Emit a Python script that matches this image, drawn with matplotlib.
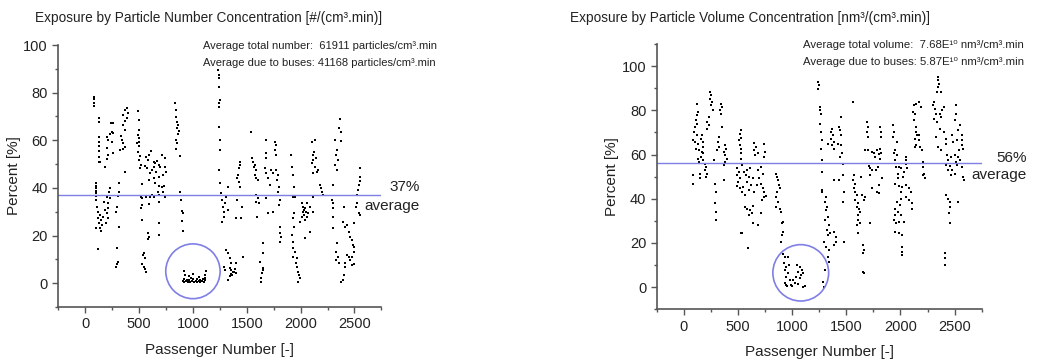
import numpy as np
import matplotlib
matplotlib.use("Agg")
import matplotlib.pyplot as plt
from matplotlib.patches import Ellipse

plt.rcParams['font.family'] = ['Liberation Sans', 'DejaVu Sans']

# values: (passenger number, percent)
num_pts = [
    # ~80-230
    (81, 78.3), (81, 77.2), (81, 75.8), (81, 74.5), (128, 69.2), (128, 67.8),
    (131, 61.2), (131, 59.4), (131, 57.6), (131, 55.6), (131, 53.1), (131, 51.0),
    (97, 41.9), (97, 40.8), (97, 39.8), (97, 38.9), (97, 37.7), (97, 36.6), (122, 14.2),
    (97, 35.0), (106, 32.1), (116, 30.0), (137, 28.6), (122, 27.2), (147, 26.5),
    (128, 25.1), (153, 24.4), (140, 23.0), (169, 27.9), (184, 30.7), (200, 29.3),
    (215, 33.5), (209, 31.4), (178, 34.2), (215, 27.2), (190, 25.1), (100, 23.0),
    (147, 22.1), (231, 39.8), (221, 38.4), (200, 36.3), (231, 35.6),
    (240, 67.4), (253, 67.1), (246, 63.6), (231, 62.6), (262, 63.2), (200, 61.5),
    (215, 60.1), (246, 59.4), (200, 56.6), (262, 54.5), (209, 53.8), (200, 52.0),
    (184, 48.7), (137, 51.0),
    # ~290-400
    (387, 73.4), (371, 72.7), (396, 71.3), (355, 70.6), (387, 69.2), (371, 68.2),
    (346, 66.4), (365, 64.3), (334, 61.8), (340, 60.1), (355, 58.7), (371, 57.0),
    (324, 55.9), (346, 56.2), (365, 46.8), (315, 42.2), (309, 38.4), (302, 36.6),
    (293, 32.1), (284, 30.0), (309, 23.7), (293, 14.7), (302, 9.1), (293, 8.1), (284, 7.0),
    # ~480-560
    (489, 72.4), (496, 68.5), (496, 64.3), (486, 62.2), (496, 60.8), (502, 59.4),
    (483, 58.7), (496, 57.6), (489, 55.2), (511, 53.4), (502, 51.7), (521, 49.6),
    (511, 48.2), (527, 41.7), (521, 36.3), (527, 32.8), (521, 31.4), (527, 26.5),
    (583, 21.0), (589, 19.5), (583, 18.4), (542, 12.8), (533, 11.9), (552, 10.5),
    (527, 8.1), (542, 7.0), (558, 5.8), (567, 4.9),
    # ~540-780
    (564, 53.1), (589, 53.8), (614, 55.6), (583, 51.7), (636, 51.0), (651, 50.3),
    (667, 51.5), (682, 49.6), (636, 48.9), (620, 47.5), (573, 48.2), (552, 49.2),
    (605, 46.1), (658, 46.8), (698, 48.9), (713, 53.8), (745, 52.4), (739, 48.9),
    (751, 46.8), (720, 45.4), (682, 44.7), (636, 44.0), (589, 43.3), (651, 41.9),
    (682, 40.8), (713, 40.5), (732, 40.8), (676, 38.4), (720, 38.4), (739, 36.3),
    (689, 37.0), (636, 36.3), (605, 36.3), (682, 34.2), (620, 37.0), (527, 35.6),
    (564, 36.3), (682, 25.4), (689, 20.3), (595, 33.3),
    # ~830-910
    (832, 75.5), (838, 72.7), (844, 69.6), (854, 67.8), (863, 66.4), (854, 65.0),
    (869, 64.0), (860, 62.6), (844, 60.1), (854, 59.0), (838, 56.2), (876, 53.4),
    (879, 38.4), (885, 35.0), (894, 30.5), (907, 29.6), (901, 26.3), (910, 22.1),
    # inside the circle
    (905, 1.0), (915, 0.5), (920, 1.8), (935, 0.8), (945, 1.5), (950, 0.4),
    (965, 1.2), (975, 0.6), (980, 2.0), (995, 0.9), (1005, 1.6), (1010, 0.5),
    (1025, 1.1), (1035, 0.4), (1040, 1.9), (1055, 0.8), (1065, 1.4), (1070, 0.5),
    (1085, 1.0), (1095, 1.7), (1100, 0.6), (1110, 1.2), (1115, 2.2),
    (915, 5.0), (930, 3.5), (960, 3.0), (1000, 4.0), (1060, 2.5), (1110, 3.5), (1120, 5.0),
    # ~1230-1400
    (1231, 89.5), (1240, 87.4), (1246, 86.0), (1240, 82.5), (1252, 76.9), (1246, 75.5),
    (1246, 74.1), (1246, 65.7), (1252, 60.1), (1252, 55.9), (1246, 47.5), (1252, 41.9),
    (1262, 37.7), (1271, 35.0), (1277, 32.1), (1293, 30.0), (1284, 27.9), (1271, 25.8),
    (1302, 33.5), (1324, 40.5), (1308, 36.3), (1324, 30.7),
    (1308, 14.0), (1324, 12.6), (1340, 10.5), (1355, 8.4), (1293, 7.0), (1340, 6.3),
    (1355, 5.6), (1371, 4.9), (1386, 5.8), (1364, 3.5), (1340, 3.0), (1324, 1.4),
    (1396, 8.4), (1464, 11.2), (1402, 4.2), (1380, 4.5), (1350, 4.0), (1300, 5.5),
    # ~1400-1460
    (1433, 51.0), (1439, 49.6), (1427, 48.2), (1417, 45.4), (1408, 44.0), (1427, 42.6),
    (1433, 40.5), (1408, 35.0), (1402, 27.2), (1449, 27.2), (1458, 32.1),
    # ~1540-1650
    (1542, 63.6), (1551, 52.4), (1558, 51.0), (1573, 49.6), (1564, 48.9), (1583, 47.5),
    (1573, 45.4), (1589, 44.0), (1604, 43.3), (1589, 37.0), (1604, 35.6), (1589, 34.2),
    (1614, 33.5), (1595, 27.9), (1651, 16.8), (1651, 12.6), (1626, 9.1), (1651, 6.3),
    (1645, 4.2), (1636, 2.1), (1636, 0.7), (1651, 5.6),
    # ~1670-1820
    (1676, 60.1), (1760, 59.4), (1770, 58.0), (1760, 55.9), (1776, 53.8), (1682, 54.5),
    (1676, 52.4), (1667, 48.2), (1682, 46.1), (1698, 44.0), (1713, 41.2), (1729, 47.5),
    (1745, 46.1), (1776, 47.5), (1791, 45.4), (1782, 43.3), (1801, 40.5), (1791, 38.4),
    (1807, 35.0), (1801, 32.8), (1682, 35.6), (1698, 29.3), (1745, 30.0),
    (1807, 23.7), (1813, 21.0), (1822, 19.5), (1813, 17.5),
    # ~1900-1990
    (1907, 53.8), (1916, 48.9), (1931, 45.4), (1938, 40.5), (1925, 36.3), (1947, 36.3),
    (1938, 29.3), (1925, 27.2), (1938, 23.7), (1919, 20.3), (1931, 17.5), (1925, 14.7),
    (1947, 13.3), (1931, 11.2), (1962, 10.5), (1956, 8.4), (1969, 7.0), (1978, 4.9),
    (1987, 3.5), (1994, 2.1), (1978, 0.7),
    # ~2000-2120
    (2009, 33.5), (2025, 32.1), (2031, 30.7), (2040, 31.4), (2019, 30.0), (2050, 30.0),
    (2056, 27.9), (2031, 28.6), (2009, 27.9), (2040, 26.5), (2072, 29.3), (2087, 32.1),
    (1994, 25.8), (2056, 33.5), (2118, 30.0), (2087, 21.7), (2040, 18.9),
    # ~2100-2210
    (2103, 59.4), (2134, 60.1), (2125, 55.2), (2118, 53.8), (2112, 51.7), (2143, 52.4),
    (2103, 50.3), (2134, 48.9), (2150, 46.8), (2112, 46.1), (2165, 47.5), (2181, 41.2),
    (2187, 39.8), (2196, 38.4), (2206, 37.0), (2118, 36.3),
    # ~2290-2400
    (2368, 68.8), (2361, 65.0), (2374, 63.6), (2321, 60.1), (2374, 59.9), (2336, 55.9),
    (2330, 53.8), (2343, 51.7), (2321, 49.6), (2336, 47.5), (2299, 41.2), (2290, 35.0),
    (2305, 33.5), (2299, 31.4), (2305, 27.9), (2305, 23.0), (2336, 16.8), (2330, 13.3),
    (2343, 11.2), (2324, 9.8), (2352, 8.4), (2399, 3.5), (2392, 1.4), (2374, 0.7),
    # ~2390-2500
    (2399, 32.1), (2392, 25.8), (2414, 23.7), (2430, 24.4), (2445, 21.7), (2461, 19.5),
    (2477, 18.2), (2486, 16.0), (2498, 15.3), (2492, 13.3), (2477, 11.2), (2461, 9.8),
    (2445, 11.2), (2430, 11.9), (2414, 8.4), (2477, 7.7), (2498, 8.1), (2414, 7.0),
    (2498, 25.1),
    # ~2520-2560
    (2555, 48.2), (2548, 44.7), (2548, 43.0), (2539, 41.2), (2530, 39.1), (2523, 37.0),
    (2523, 33.5), (2517, 31.9), (2539, 29.3), (2555, 28.6),
]

vol_pts = [
    # ~80-210
    (119, 83.0), (135, 79.3), (125, 77.8), (113, 75.5), (125, 74.0), (104, 72.5),
    (94, 70.2), (119, 68.7), (88, 66.5), (104, 65.7), (135, 65.0), (113, 62.7),
    (144, 62.0), (166, 61.2), (182, 60.5), (157, 59.0), (135, 58.2), (176, 57.4),
    (144, 56.7), (197, 55.9), (207, 54.4), (197, 52.9), (213, 51.4), (151, 51.4),
    (88, 50.7), (151, 49.6), (207, 49.9), (82, 46.6), (166, 68.7), (157, 67.2),
    (176, 65.7), (182, 63.5),
    # ~210-280
    (244, 88.3), (254, 86.8), (238, 85.3), (260, 83.8), (251, 82.3), (269, 80.0),
    (229, 77.0), (219, 74.8), (229, 73.3), (213, 71.7),
    # ~280-400
    (344, 83.0), (354, 81.5), (338, 80.0), (344, 78.5), (354, 72.5), (322, 68.0),
    (313, 65.7), (322, 63.5), (307, 62.0), (385, 64.2), (394, 62.7), (376, 61.2),
    (385, 59.7), (401, 58.2), (385, 56.7), (369, 55.2), (282, 57.4), (369, 48.4),
    (291, 46.9), (301, 43.2), (291, 37.9), (301, 34.1), (301, 30.4),
    # ~490-560
    (526, 71.0), (520, 69.5), (526, 67.7), (510, 66.5), (520, 64.2), (532, 62.7),
    (526, 60.5), (532, 58.2), (541, 55.2), (494, 53.7), (510, 52.2), (494, 50.7),
    (520, 49.2), (501, 47.7), (494, 45.7), (520, 44.7), (541, 43.2), (563, 41.6),
    (551, 45.4), (532, 24.3),
    # ~560-780
    (651, 65.3), (666, 63.5), (645, 62.0), (682, 60.8), (657, 59.7), (745, 65.0),
    (751, 61.2), (738, 58.9), (557, 52.2), (582, 52.9), (613, 53.7), (573, 50.7),
    (604, 49.9), (635, 49.2), (588, 47.7), (620, 46.2), (604, 43.9), (651, 43.2),
    (682, 52.9), (713, 54.4), (729, 51.4), (698, 49.2), (713, 46.9), (676, 46.2),
    (729, 44.7), (745, 43.2), (760, 41.2), (720, 39.4), (738, 40.6), (563, 36.4),
    (588, 35.6), (613, 34.9), (626, 33.4), (604, 32.6), (635, 36.7), (713, 33.4),
    (635, 28.9), (682, 28.1), (541, 24.3), (595, 17.6),
    # ~840-930
    (854, 51.4), (863, 49.9), (870, 48.4), (876, 46.2), (885, 44.7), (863, 43.2),
    (854, 40.9), (870, 38.6), (854, 36.4), (885, 35.6), (901, 34.1), (917, 29.6),
    (907, 28.9), (917, 25.1), (907, 23.6), (901, 20.6),
    # inside the circle
    (917, 15.0), (932, 13.8), (963, 13.5), (926, 10.8), (948, 9.3), (970, 10.0),
    (932, 7.8), (963, 6.6), (948, 4.8), (979, 3.3), (932, 1.8), (957, 0.6),
    (989, 1.0), (1026, 2.1), (1057, 1.5), (1104, 0.3), (1120, 0.6), (1042, 10.0),
    (1073, 9.3), (1089, 7.8), (1057, 7.0), (1082, 5.5), (1104, 6.3), (1032, 4.8),
    (1010, 3.3), (1073, 4.0), (940, 0.8), (1000, 0.5),
    # ~1230-1310
    (1235, 92.8), (1244, 91.3), (1241, 89.8), (1260, 81.5), (1260, 80.0), (1266, 78.5),
    (1260, 74.0), (1266, 70.2), (1273, 66.5), (1266, 62.7), (1273, 57.4), (1273, 52.2),
    (1273, 43.2), (1313, 40.9), (1304, 38.6), (1323, 36.4), (1313, 34.9), (1329, 31.9),
    (1304, 30.4), (1344, 28.1), (1323, 25.8), (1329, 23.6), (1354, 24.3), (1298, 20.6),
    (1313, 18.3), (1344, 16.8), (1329, 13.8), (1344, 11.5), (1304, 7.8), (1282, 2.5),
    (1291, 0.2), (1391, 25.1), (1407, 22.8), (1407, 20.6), (1385, 19.1), (1479, 20.6),
    # ~1330-1480
    (1366, 71.7), (1360, 70.2), (1376, 68.7), (1360, 67.2), (1385, 65.7), (1366, 64.2),
    (1391, 62.7), (1429, 72.5), (1438, 71.0), (1448, 68.7), (1423, 65.0), (1454, 64.2),
    (1460, 60.5), (1438, 58.9), (1470, 55.9), (1448, 77.0), (1329, 65.0), (1385, 48.4),
    (1429, 48.4), (1470, 50.7), (1479, 43.2), (1470, 38.6), (1273, 43.9),
    # ~1550-1800
    (1563, 83.8), (1573, 50.7), (1563, 48.4), (1579, 46.9), (1573, 44.7), (1585, 43.2),
    (1595, 41.6), (1585, 39.4), (1604, 37.9), (1595, 36.4), (1617, 35.6), (1626, 34.1),
    (1610, 32.6), (1604, 30.4), (1595, 28.1), (1626, 28.9), (1635, 49.9), (1648, 41.6),
    (1673, 40.9), (1667, 39.4), (1610, 24.3), (1657, 19.1), (1667, 16.8), (1657, 15.3),
    (1667, 6.3), (1657, 7.0), (1720, 28.9), (1720, 50.7), (1735, 44.7), (1782, 43.2),
    (1798, 46.2), (1804, 42.4),
    # ~1670-1830
    (1688, 74.8), (1698, 72.5), (1688, 70.2), (1698, 68.0), (1673, 62.0), (1704, 62.0),
    (1735, 61.2), (1760, 60.5), (1782, 62.0), (1798, 60.2), (1767, 58.9), (1813, 58.2),
    (1823, 60.5), (1813, 62.7), (1710, 54.8), (1735, 52.9), (1720, 53.7), (1773, 52.9),
    (1813, 72.5), (1817, 70.2), (1823, 68.0), (1792, 54.4), (1829, 49.2),
    # ~1920-2110
    (1929, 73.3), (1938, 70.2), (1929, 68.0), (1970, 65.7), (1954, 62.0), (1938, 60.5),
    (1970, 59.7), (1948, 57.4), (1985, 54.4), (1960, 54.4), (2001, 53.7), (1979, 51.4),
    (2054, 58.9), (2048, 57.4), (2054, 55.9), (2064, 53.7), (2032, 52.2), (2023, 49.9),
    (1979, 49.2), (1954, 46.9), (1985, 45.7), (2017, 45.4), (2054, 46.2), (2079, 44.7),
    (2001, 43.2), (2095, 43.2), (2048, 40.9), (2001, 40.1), (1970, 38.6), (2079, 39.4),
    (2104, 37.9), (2110, 35.6), (1992, 37.1), (1979, 34.1), (1948, 35.6), (1954, 32.6),
    (2001, 32.6), (1938, 30.4), (1960, 28.9), (1985, 29.6), (1948, 25.1), (1985, 24.3),
    (2017, 23.6), (2011, 18.3), (2017, 16.0), (2011, 14.6), (2032, 29.6),
    # ~2110-2230
    (2126, 82.3), (2142, 83.0), (2173, 83.8), (2189, 81.5), (2117, 79.3), (2136, 78.5),
    (2126, 75.5), (2148, 72.5), (2142, 70.2), (2157, 68.7), (2173, 68.7), (2136, 67.2),
    (2167, 66.5), (2148, 64.2), (2179, 63.5), (2198, 62.0), (2136, 63.5), (2204, 56.7),
    (2211, 54.4), (2220, 51.4), (2229, 49.2), (2204, 50.7),
    # ~2300-2470
    (2345, 95.1), (2345, 93.6), (2354, 92.1), (2345, 90.6), (2336, 88.3), (2376, 88.3),
    (2314, 83.8), (2298, 82.3), (2323, 80.8), (2329, 78.5), (2314, 76.3), (2336, 74.8),
    (2361, 78.5), (2376, 77.0), (2386, 80.0), (2398, 81.5), (2361, 71.7), (2398, 70.2),
    (2329, 68.0), (2417, 67.2), (2423, 65.0), (2345, 63.5), (2376, 62.0), (2429, 59.7),
    (2439, 57.4), (2417, 55.2), (2461, 54.7), (2439, 52.9), (2470, 50.7), (2423, 41.6),
    (2439, 40.1), (2454, 38.6), (2461, 36.4), (2533, 38.6), (2448, 33.4), (2454, 29.2),
    (2408, 15.3), (2408, 13.0), (2411, 10.0),
    # ~2470-2590
    (2511, 82.3), (2517, 78.5), (2501, 75.5), (2548, 73.3), (2533, 71.0), (2564, 68.7),
    (2573, 66.5), (2564, 64.2), (2580, 62.7), (2523, 66.5), (2542, 62.0), (2501, 59.7),
    (2533, 58.9), (2548, 57.4), (2511, 56.7), (2564, 54.4), (2523, 55.2), (2480, 52.9),
    (2501, 51.4), (2580, 49.9), (2586, 48.4), (2480, 68.7), (2486, 65.7), (2470, 59.0),
]

num_avg = 37
vol_avg = 56

num_x, num_y = np.array(num_pts).T
vol_x, vol_y = np.array(vol_pts).T

line_col = '#7f7fe6'
txt_col = '#222222'

fig = plt.figure(figsize=(10.42, 3.6), dpi=100)
ax1 = fig.add_axes([0.056, 0.1472, 0.3100, 0.7278])
ax2 = fig.add_axes([0.6302, 0.1408, 0.3119, 0.7369])


def style(ax, ylim, yticks):
    ax.set_xlim(-250, 2750)
    ax.set_ylim(*ylim)
    ax.set_xticks([0, 500, 1000, 1500, 2000, 2500])
    ax.set_xticks(np.arange(-250, 2751, 250), minor=True)
    ax.set_yticks(yticks)
    ax.set_yticks(np.arange(ylim[0], ylim[1] + 1, 10), minor=True)
    for s in ['top', 'right']:
        ax.spines[s].set_visible(False)
    for s in ['left', 'bottom']:
        ax.spines[s].set_color('#555555')
        ax.spines[s].set_linewidth(1.2)
    ax.tick_params(which='major', length=4, width=1, color='#555555',
                   labelsize=10.5, labelcolor=txt_col)
    ax.tick_params(which='minor', length=2, width=1, color='#555555')
    ax.set_xlabel('Passenger Number [-]', fontsize=11, color=txt_col, labelpad=8)
    ax.set_ylabel('Percent [%]', fontsize=11, color=txt_col, labelpad=2)


# left panel
ax1.scatter(num_x, num_y, s=4.5, marker='s', c='black', linewidths=0)
ax1.axhline(num_avg, color=line_col, lw=1)
ax1.add_patch(Ellipse((1000, 5), 505, 23, fill=False, ec=line_col, lw=1.2))
style(ax1, (-10, 100), [0, 20, 40, 60, 80, 100])

# right panel
ax2.scatter(vol_x, vol_y, s=4.5, marker='s', c='black', linewidths=0)
ax2.axhline(vol_avg, color=line_col, lw=1)
ax2.add_patch(Ellipse((1080, 6.5), 515, 25.5, fill=False, ec=line_col, lw=1.2))
style(ax2, (-10, 110), [0, 20, 40, 60, 80, 100])

W, H = 1042, 360


def ftext(x, y, s, **kw):
    fig.text(x / W, 1 - y / H, s, va='center', color=txt_col, **kw)


ftext(35, 18, 'Exposure by Particle Number Concentration [#/(cm³.min)]', fontsize=9.8)
ftext(570, 18, 'Exposure by Particle Volume Concentration [nm³/(cm³.min)]', fontsize=9.8)

ftext(203, 46, 'Average total number:  61911 particles/cm³.min', fontsize=8)
ftext(203, 63, 'Average due to buses: 41168 particles/cm³.min', fontsize=8)
ftext(803, 45, 'Average total volume:  7.68E¹⁰ nm³/cm³.min', fontsize=8.2)
ftext(803, 62, 'Average due to buses: 5.87E¹⁰ nm³/cm³.min', fontsize=8.2)

ftext(420, 187, f'{num_avg}%', fontsize=11, ha='right')
ftext(420, 206, 'average', fontsize=11, ha='right')
ftext(1027, 158, f'{vol_avg}%', fontsize=11, ha='right')
ftext(1027, 175, 'average', fontsize=11, ha='right')

fig.savefig('out.png', dpi=100)
